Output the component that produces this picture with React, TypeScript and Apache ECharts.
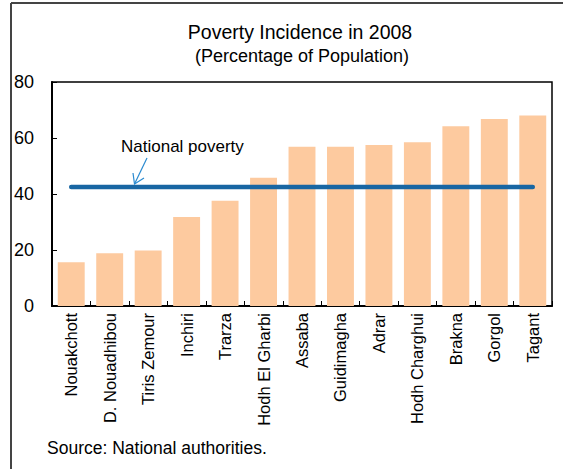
import React, { useEffect, useRef } from "react";
import * as echarts from "echarts";

const categories = [
  "Nouakchott",
  "D. Nouadhibou",
  "Tiris Zemour",
  "Inchiri",
  "Trarza",
  "Hodh El Gharbi",
  "Assaba",
  "Guidimagha",
  "Adrar",
  "Hodh Charghui",
  "Brakna",
  "Gorgol",
  "Tagant",
];
const povertyIncidence = [15.6, 18.8, 19.8, 31.8, 37.6, 45.8, 56.9, 56.9, 57.5, 58.5, 64.2, 66.8, 68.0];
const nationalPoverty = 42.5;
const yTicks = { min: 0, max: 80, interval: 20 };

const FONT = "Arial, 'Liberation Sans', sans-serif";

export default function App() {
  const ref = useRef<HTMLDivElement>(null);
  useEffect(() => {
    if (!ref.current) return;
    const chart = echarts.init(ref.current, null, { renderer: "svg" });
    const gridLeft = 52;
    const gridTop = 82;
    const gridW = 500;
    const gridH = 224;
    chart.setOption({
      animation: false,
      backgroundColor: "#ffffff",
      title: [
        {
          text: "Poverty Incidence in 2008",
          left: 295,
          top: 17,
          textAlign: "center",
          textStyle: { fontFamily: FONT, fontSize: 19.5, fontWeight: "normal", color: "#000" },
        },
        {
          text: "(Percentage of Population)",
          left: 297,
          top: 42,
          textAlign: "center",
          textStyle: { fontFamily: FONT, fontSize: 18, fontWeight: "normal", color: "#000" },
        },
      ],
      grid: { left: gridLeft, top: gridTop, width: gridW, height: gridH, containLabel: false },
      xAxis: {
        type: "category",
        data: categories,
        boundaryGap: true,
        axisLine: { show: true, lineStyle: { color: "#000", width: 2 } },
        axisTick: { show: true, inside: true, length: 5, lineStyle: { color: "#000", width: 1 } },
        axisLabel: {
          rotate: 90,
          interval: 0,
          margin: 7,
          fontFamily: FONT,
          fontSize: 16.5,
          color: "#000",
        },
        splitLine: { show: false },
      },
      yAxis: {
        type: "value",
        min: yTicks.min,
        max: yTicks.max,
        interval: yTicks.interval,
        axisLine: { show: true, lineStyle: { color: "#000", width: 2 } },
        axisTick: { show: true, inside: true, length: 5, lineStyle: { color: "#000", width: 1 } },
        axisLabel: { margin: 18, fontFamily: FONT, fontSize: 18, color: "#000" },
        splitLine: { show: false },
      },
      series: [
        {
          type: "bar",
          data: povertyIncidence,
          barCategoryGap: "30%",
          itemStyle: { color: "#FDCA9F" },
          z: 2,
        },
        {
          type: "line",
          data: categories.map(() => nationalPoverty),
          symbol: "none",
          lineStyle: { color: "#1866A3", width: 4.5, cap: "round" },
          z: 3,
        },
      ],
      graphic: [
        {
          type: "rect",
          shape: { x: gridLeft, y: gridTop, width: gridW, height: gridH },
          style: { fill: "none", stroke: "#000", lineWidth: 1.5 },
          z: 1,
          silent: true,
        },
        {
          type: "line",
          shape: { x1: 11, y1: 3, x2: 563, y2: 3 },
          style: { stroke: "#444", lineWidth: 2 },
        },
        {
          type: "line",
          shape: { x1: 11, y1: 3, x2: 11, y2: 469 },
          style: { stroke: "#444", lineWidth: 2 },
        },
        {
          type: "text",
          x: 121,
          y: 146,
          style: {
            text: "National poverty",
            fontFamily: FONT,
            fontSize: 17,
            fill: "#000",
            textVerticalAlign: "middle",
          },
        },
        {
          type: "line",
          shape: { x1: 147, y1: 158, x2: 134.5, y2: 184 },
          style: { stroke: "#2A8AD0", lineWidth: 1.2 },
          z: 10,
        },
        {
          type: "polyline",
          shape: { points: [[133, 173], [134.5, 184], [144, 178]] },
          style: { stroke: "#2A8AD0", lineWidth: 1.2, fill: "none" },
          z: 10,
        },
        {
          type: "text",
          x: 47,
          y: 448,
          style: {
            text: "Source: National authorities.",
            fontFamily: FONT,
            fontSize: 17.5,
            fill: "#000",
            textVerticalAlign: "middle",
          },
        },
      ],
    });
    return () => chart.dispose();
  }, []);
  return (
    <div
      ref={ref}
      style={{ position: "absolute", left: 0, top: 0, width: 563, height: 469 }}
    />
  );
}
